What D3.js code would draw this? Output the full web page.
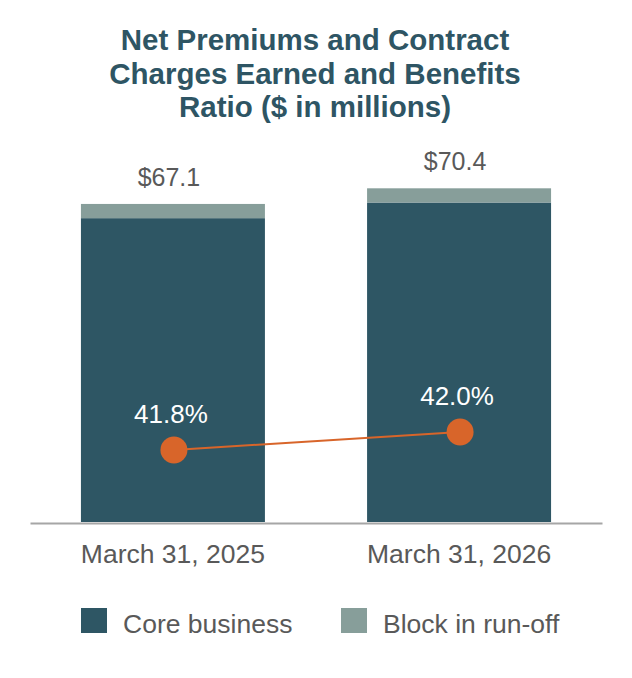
<!DOCTYPE html>
<html>
<head>
<meta charset="utf-8">
<script src="https://cdn.jsdelivr.net/npm/d3@7"></script>
<style>
  body { margin: 0; background: #fff; }
  text { font-family: "Liberation Sans", Arial, Helvetica, sans-serif; }
</style>
</head>
<body>
<div id="chart"></div>
<script>
const periods = ['March 31, 2025', 'March 31, 2026'];
const coreBusiness = [64.1, 67.4];
const blockInRunOff = [3.0, 3.0];
const totals = [67.1, 70.4];
const benefitsRatio = [41.8, 42.0];
const titleLines = ['Net Premiums and Contract', 'Charges Earned and Benefits', 'Ratio ($ in millions)'];
const legendItems = ['Core business', 'Block in run-off'];

const colors = { core: '#2e5664', block: '#879e9a', line: '#d8652a', title: '#2e5564', text: '#595959' };

const width = 632, height = 678;
const svg = d3.select('#chart')
  .append('svg')
  .attr('width', width)
  .attr('height', height);

// title
svg.append('g')
  .selectAll('text')
  .data(titleLines)
  .enter().append('text')
    .attr('x', 315)
    .attr('y', (d, i) => 50 + i * 33.5)
    .attr('text-anchor', 'middle')
    .attr('font-size', '29.5px')
    .attr('font-weight', 'bold')
    .attr('fill', colors.title)
    .text(d => d);

const x = d3.scaleBand()
  .domain(periods)
  .range([30, 602])
  .paddingInner(0.357)
  .paddingOuter(0.178);

const y = d3.scaleLinear()
  .domain([0, 75])
  .range([522, 522 - 75 * 4.74]);

const yRatio = d3.scaleLinear()
  .domain([40, 43])
  .range([612, 342]);

const rows = periods.map((p, i) => ({
  period: p, core: coreBusiness[i], block: blockInRunOff[i], total: totals[i], ratio: benefitsRatio[i]
}));
const stacked = d3.stack().keys(['core', 'block'])(rows);

svg.append('g')
  .selectAll('g')
  .data(stacked)
  .enter().append('g')
    .attr('fill', d => colors[d.key])
  .selectAll('rect')
  .data(d => d)
  .enter().append('rect')
    .attr('x', d => x(d.data.period))
    .attr('width', x.bandwidth())
    .attr('y', d => y(d[1]))
    .attr('height', d => y(d[0]) - y(d[1]));

// total labels
svg.append('g')
  .selectAll('text')
  .data(rows)
  .enter().append('text')
    .attr('x', d => x(d.period) + x.bandwidth() / 2 - 4)
    .attr('y', d => y(d.total) - 18)
    .attr('text-anchor', 'middle')
    .attr('font-size', '25px')
    .attr('fill', colors.text)
    .text(d => '$' + d.total.toFixed(1));

// x axis
const axis = svg.append('g')
  .attr('transform', 'translate(0, 523)')
  .call(d3.axisBottom(x).tickSize(0).tickSizeOuter(0).tickPadding(21));
axis.select('.domain').attr('stroke', '#a6a6a6').attr('stroke-width', 2);
axis.selectAll('text')
  .attr('font-size', '26.5px')
  .attr('font-family', '"Liberation Sans", Arial, sans-serif')
  .attr('fill', colors.text);

// ratio line
const cx = d => x(d.period) + x.bandwidth() / 2 + 1;
svg.append('path')
  .datum(rows)
  .attr('fill', 'none')
  .attr('stroke', colors.line)
  .attr('stroke-width', 2)
  .attr('d', d3.line().x(cx).y(d => yRatio(d.ratio)));

svg.append('g')
  .selectAll('circle')
  .data(rows)
  .enter().append('circle')
    .attr('cx', cx)
    .attr('cy', d => yRatio(d.ratio))
    .attr('r', 13.5)
    .attr('fill', colors.line);

svg.append('g')
  .selectAll('text')
  .data(rows)
  .enter().append('text')
    .attr('x', d => cx(d) - 3)
    .attr('y', d => yRatio(d.ratio) - 27)
    .attr('text-anchor', 'middle')
    .attr('font-size', '26px')
    .attr('fill', '#fff')
    .text(d => d.ratio.toFixed(1) + '%');

// legend
const legend = svg.append('g')
  .selectAll('g')
  .data(legendItems)
  .enter().append('g')
    .attr('transform', (d, i) => `translate(${81 + i * 260}, 608)`);
legend.append('rect')
  .attr('width', 26)
  .attr('height', 25)
  .attr('fill', (d, i) => i === 0 ? colors.core : colors.block);
legend.append('text')
  .attr('x', 42)
  .attr('y', 25)
  .attr('font-size', '26.5px')
  .attr('fill', colors.text)
  .text(d => d);
</script>
</body>
</html>
